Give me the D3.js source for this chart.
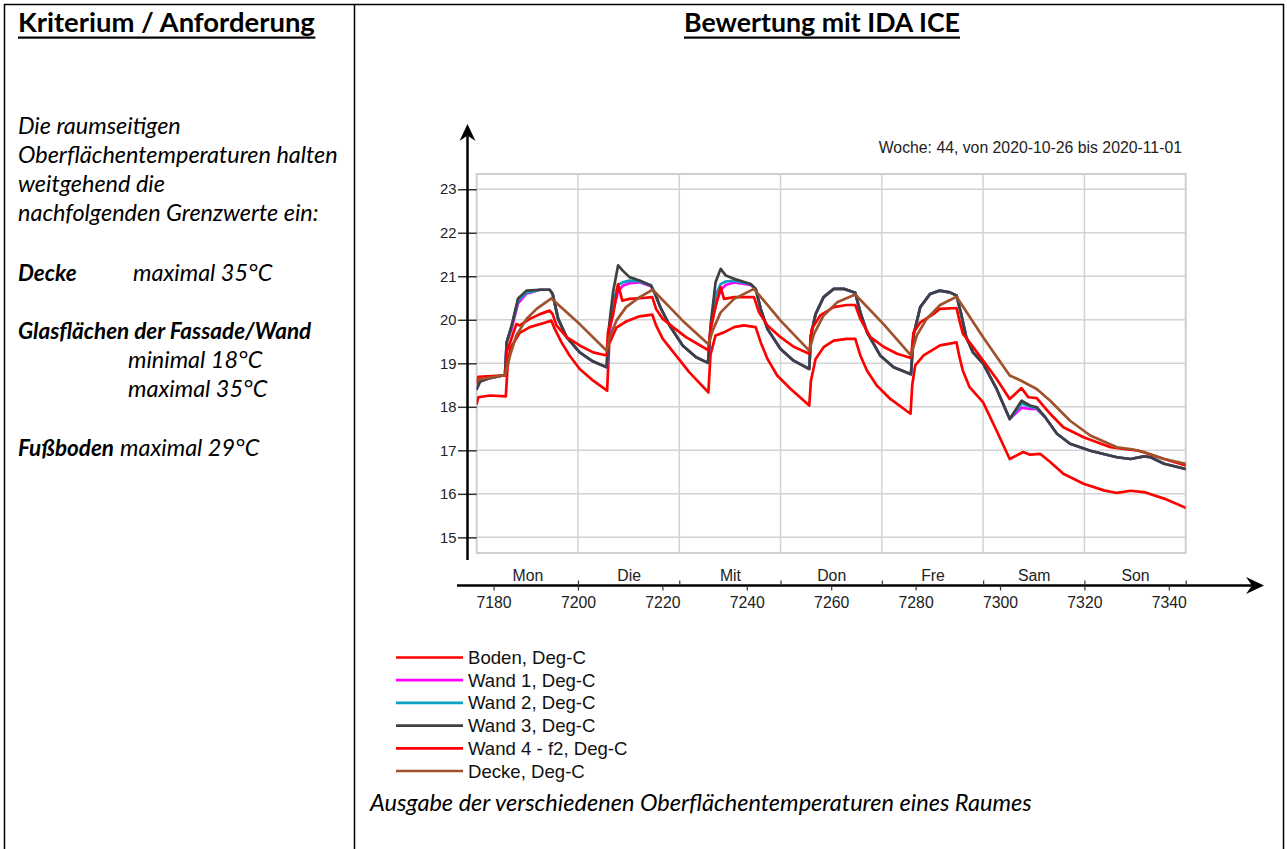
<!DOCTYPE html>
<html><head><meta charset="utf-8">
<script src="https://cdn.jsdelivr.net/npm/d3@7"></script>
<style>body{margin:0;background:#fff} svg{display:block}</style>
</head><body>
<svg id="c" width="1287" height="849"></svg>
<script>
// ---------------- data ----------------
const yTicks = [15, 16, 17, 18, 19, 20, 21, 22, 23];
const xTicks = [7180, 7200, 7220, 7240, 7260, 7280, 7300, 7320, 7340];
const dayNames = ["Mon", "Die", "Mit", "Don", "Fre", "Sam", "Son"];
const dayBounds = [7200, 7224, 7248, 7272, 7296, 7320, 7344];
const dayMids = [7188, 7212, 7236, 7260, 7284, 7308, 7332];
const chartTitle = "Woche: 44, von 2020-10-26 bis 2020-11-01";
const seriesNames = ["Boden, Deg-C", "Wand 1, Deg-C", "Wand 2, Deg-C", "Wand 3, Deg-C", "Wand 4 - f2, Deg-C", "Decke, Deg-C"];

const hBoden = [7176,7176.4,7179.1,7182.9,7183.3,7184,7186.2,7188.6,7191.7,7193.7,7194.5,7196.1,7198,7200.4,7203.6,7206.9,
  7207.4,7209.1,7211.4,7214.6,7217.6,7218.5,7220.1,7223.2,7226.4,7230.9,
  7231.4,7232.6,7234.6,7237,7239.3,7242.1,7243.3,7244.9,7247.2,7250.4,7254.8,
  7255.2,7256.3,7258.2,7260.6,7263.7,7265.7,7266.9,7268.5,7270.8,7274,7278.8,
  7279.2,7279.9,7281.9,7285.8,7289.7,7290.4,7291.2,7292.8,7296,7299.2,7302.3,7305.5,7307.1,7309.5,7311.9,7315,7319.8,7324.6,7327.7,7330.9,7334.1,7338.9,7344];
const boden = [18.07,18.22,18.26,18.24,18.9,19.35,19.7,19.83,19.92,19.98,19.79,19.48,19.18,18.87,18.6,18.37,
  19.45,19.82,19.96,20.08,20.12,19.87,19.56,19.18,18.79,18.33,
  19.2,19.64,19.71,19.83,19.87,19.83,19.48,19.1,18.72,18.41,18.03,
  18.6,19.1,19.37,19.52,19.56,19.56,19.18,18.83,18.49,18.18,17.84,
  18.5,18.95,19.18,19.41,19.48,19.14,18.83,18.45,18.1,17.45,16.8,16.96,16.9,16.92,16.73,16.46,16.23,16.08,16.02,16.07,16.04,15.89,15.68];

const hWand = [7176,7176.8,7179.1,7182.7,7183.1,7184.3,7185.8,7187.8,7191,7193.3,7194,7195.3,7197.3,7200.4,7203.6,7206.8,
  7207.3,7208.3,7209.5,7210.6,7212.2,7214.6,7217.3,7218.1,7219.7,7221.7,7224.8,7228,7230.8,
  7231.5,7232.6,7233.8,7235,7237,7240.9,7242.1,7243.3,7244.9,7248,7251.1,7254.8,
  7255.2,7256.3,7258.2,7260.6,7263,7265.7,7266.9,7268.5,7271.6,7274.8,7278.9,
  7279.5,7281.1,7283.4,7285.7,7288.1,7289.7,7290.8,7292,7293.6,7296,7299.2,7302.3,7305.1,7307.1,7308.7,7310.7,7313.5,7316.6,7321.4,7327.7,7330.9,7334.1,7335.7,7338.9,7344];
const wand3 = [18.41,18.58,18.66,18.73,19.48,19.87,20.49,20.67,20.69,20.69,20.59,20.02,19.6,19.25,19.04,18.91,
  19.79,20.63,21.25,21.13,20.98,20.9,20.79,20.63,20.25,19.87,19.41,19.14,19.01,
  19.94,20.86,21.17,21.02,20.94,20.82,20.71,20.25,19.79,19.33,19.06,18.87,
  19.64,20.13,20.52,20.71,20.71,20.62,20.17,19.71,19.18,18.91,18.75,
  19.64,20.29,20.59,20.67,20.63,20.56,20.13,19.6,19.25,18.99,18.41,17.72,18.14,18.03,17.99,17.76,17.38,17.15,16.99,16.84,16.8,16.86,16.84,16.69,16.57];
const wand2 = [18.41,18.58,18.66,18.73,19.48,19.87,20.45,20.62,20.69,20.69,20.59,20.02,19.6,19.25,19.04,18.91,
  19.75,20.4,20.8,20.86,20.9,20.88,20.79,20.63,20.25,19.87,19.41,19.14,19.01,
  19.9,20.55,20.82,20.88,20.9,20.82,20.71,20.25,19.79,19.33,19.06,18.87,
  19.64,20.13,20.52,20.71,20.71,20.62,20.17,19.71,19.18,18.91,18.75,
  19.64,20.29,20.59,20.67,20.63,20.56,20.13,19.6,19.25,18.99,18.41,17.72,18.08,18.0,17.97,17.76,17.38,17.15,16.99,16.84,16.8,16.86,16.84,16.69,16.57];
const wand1 = [18.41,18.58,18.66,18.73,19.48,19.8,20.38,20.6,20.69,20.69,20.59,20.02,19.6,19.25,19.04,18.91,
  19.6,20.2,20.65,20.78,20.84,20.86,20.77,20.63,20.25,19.87,19.41,19.14,19.01,
  19.8,20.35,20.68,20.8,20.86,20.8,20.71,20.25,19.79,19.33,19.06,18.87,
  19.64,20.13,20.52,20.71,20.71,20.62,20.17,19.71,19.18,18.91,18.75,
  19.64,20.29,20.59,20.67,20.63,20.56,20.13,19.6,19.25,18.99,18.41,17.72,17.98,17.95,17.95,17.76,17.38,17.15,16.99,16.84,16.8,16.86,16.84,16.69,16.57];

const hWand4 = [7176,7176.4,7182.8,7183.2,7184,7185.4,7186.2,7188.6,7191,7193.3,7194,7194.9,7197.3,7200.4,7203.6,7206.8,
  7207.1,7208.3,7209.5,7210.5,7212.2,7215.4,7217.6,7218.5,7220.1,7222.5,7225.6,7230.9,
  7231.4,7232.6,7233.8,7234.6,7237,7241.7,7242.9,7244.9,7248,7251.1,7254.8,
  7255.4,7257.4,7260.6,7263.7,7265.7,7266.9,7269.3,7272.4,7275.6,7278.9,
  7279.5,7281.1,7284.2,7285.7,7289.7,7290.4,7291.2,7292.8,7296,7299.2,7302.3,7305.1,7306.7,7308.7,7311.9,7315,7319.8,7326.2,7329.3,7332.5,7338.9,7344];
const wand4 = [18.55,18.69,18.72,19.3,19.5,19.9,19.87,20.02,20.13,20.21,20.13,19.87,19.6,19.41,19.25,19.18,
  19.71,20.1,20.82,20.44,20.48,20.5,20.52,20.25,20.02,19.83,19.6,19.3,
  19.79,20.3,20.75,20.48,20.52,20.52,20.17,19.87,19.6,19.38,19.22,
  19.79,20.1,20.29,20.34,20.34,20.02,19.6,19.38,19.22,19.12,
  19.71,19.94,20.13,20.25,20.27,19.98,19.68,19.48,19.06,18.64,18.18,18.43,18.22,18.2,17.84,17.53,17.3,17.07,17.03,17.0,16.8,16.65];

const hDecke = [7176,7182.7,7183.9,7185.4,7187.8,7190.2,7193.7,7200.4,7206.8,
  7207.5,7209.1,7211.4,7214.6,7217.7,7224.8,7230.9,
  7231.9,7233.8,7237,7241.7,7248,7254.8,
  7255.9,7258.2,7261.4,7265.7,7272.4,7278.9,
  7280.3,7282.6,7285.8,7289.7,7296,7302.3,7305,7308.7,7311.9,7316.6,7321.4,7327.7,7330.9,7334.1,7338.9,7344];
const decke = [18.62,18.73,19.18,19.64,20.02,20.25,20.49,19.9,19.29,
  19.6,19.98,20.29,20.52,20.69,19.98,19.44,
  19.75,20.17,20.48,20.71,19.98,19.29,
  19.67,20.1,20.4,20.58,19.9,19.18,
  19.64,20.02,20.34,20.53,19.6,18.72,18.6,18.41,18.14,17.68,17.34,17.07,17.03,16.96,16.8,16.69];

const seriesColors = ["#ff0000", "#ff00ff", "#0aa0c4", "#404040", "#ff0000", "#a0522d"];

// --------------- drawing ---------------
const svg = d3.select("#c");
svg.append("rect").attr("width", 1287).attr("height", 849).attr("fill", "#fff");

const L = 476.7, R = 1185.7, T = 174, B = 553;
const x = d3.scaleLinear().domain([7176, 7344]).range([L, R]);
const y = d3.scaleLinear().domain([14.64, 23.35]).range([B, T]);

// table frame
const frame = svg.append("g").attr("stroke", "#000").attr("stroke-width", 1.5).attr("fill", "none");
frame.append("path").attr("d", "M4.5,860 V4.5 H1283.5 V860");
frame.append("line").attr("x1", 354.5).attr("x2", 354.5).attr("y1", 4.5).attr("y2", 860);

// headers
function fitSize(sel, target) {
  const w = sel.node().getComputedTextLength();
  const fs = parseFloat(sel.attr("font-size"));
  return fs * target / w;
}
const hdrFont = "Lato, 'Open Sans', sans-serif";
const h1 = svg.append("text").attr("x", 18).attr("y", 32).attr("font-family", hdrFont)
  .attr("font-weight", "bold").attr("font-size", 24).attr("fill", "#000").text("Kriterium / Anforderung");
h1.attr("font-size", fitSize(h1, 297));
const h2 = svg.append("text").attr("x", 822).attr("y", 32).attr("text-anchor", "middle").attr("font-family", hdrFont)
  .attr("font-weight", "bold").attr("font-size", 24).attr("fill", "#000").text("Bewertung mit IDA ICE");
h2.attr("font-size", fitSize(h2, 276));
[h1, h2].forEach(t => {
  const bb = t.node().getBBox();
  svg.append("rect").attr("x", bb.x).attr("y", 36.5).attr("width", bb.width).attr("height", 2.2).attr("fill", "#000");
});

// left column text
const leftLines = [
  {t: "Die raumseitigen", x: 18, y: 134},
  {t: "Oberflächentemperaturen halten", x: 18, y: 163, ref: 320},
  {t: "weitgehend die", x: 18, y: 192},
  {t: "nachfolgenden Grenzwerte ein:", x: 18, y: 221},
  {t: "Decke", x: 18, y: 281, b: true},
  {t: "maximal 35°C", x: 133, y: 281},
  {t: "Glasflächen der Fassade/Wand", x: 18, y: 339, b: true, ref: 308},
  {t: "minimal 18°C", x: 128, y: 368},
  {t: "maximal 35°C", x: 128, y: 397},
  {t: "Fußboden", x: 18, y: 456, b: true, ref: 96},
  {t: "maximal 29°C", x: 120, y: 456}
];
const leftG = svg.append("g").attr("font-family", hdrFont).attr("font-style", "italic").attr("fill", "#000");
const lt = leftG.selectAll("text").data(leftLines).join("text")
  .attr("x", d => d.x).attr("y", d => d.y).attr("font-size", 20)
  .attr("font-weight", d => d.b ? "bold" : "normal").text(d => d.t);
let fsN = 20, fsB = 40;
lt.each(function (d) {
  if (!d.ref) return;
  const f = fitSize(d3.select(this), d.ref);
  if (d.b) fsB = Math.min(fsB, f); else fsN = f;
});
lt.attr("font-size", d => d.b ? fsB : fsN);

// caption
const cap = svg.append("text").attr("x", 370).attr("y", 811).attr("font-family", hdrFont).attr("font-style", "italic")
  .attr("font-size", 20).attr("fill", "#000").text("Ausgabe der verschiedenen Oberflächentemperaturen eines Raumes");
cap.attr("font-size", fitSize(cap, 662));

// chart
const chartFont = "'Liberation Sans', Arial, sans-serif";
svg.append("text").attr("x", 1182).attr("y", 153).attr("text-anchor", "end").attr("font-family", chartFont)
  .attr("font-size", 15.8).attr("fill", "#222").text(chartTitle);

// grid
const grid = svg.append("g").attr("stroke", "#d3d3d3").attr("stroke-width", 1.5).attr("fill", "none");
grid.selectAll(".h").data(yTicks).join("line").attr("x1", L).attr("x2", R).attr("y1", d => y(d)).attr("y2", d => y(d));
grid.selectAll(".v").data(dayBounds.slice(0, -1)).join("line").attr("y1", T).attr("y2", B).attr("x1", d => x(d)).attr("x2", d => x(d));
grid.append("rect").attr("x", L).attr("y", T).attr("width", R - L).attr("height", B - T).attr("stroke", "#cfcfcf").attr("stroke-width", 2);

// y axis ticks + labels
const yAx = svg.append("g").attr("transform", `translate(${L},0)`)
  .call(d3.axisLeft(y).tickValues(yTicks).tickSize(18.7).tickPadding(1.5).tickFormat(d3.format("d")));
yAx.select(".domain").remove();
yAx.selectAll(".tick line").attr("stroke", "#333").attr("stroke-width", 1.5);
yAx.selectAll("text").attr("font-family", chartFont).attr("font-size", 14.8).attr("fill", "#222");

// y axis line with arrow
svg.append("line").attr("x1", 467.5).attr("x2", 467.5).attr("y1", 128).attr("y2", 560).attr("stroke", "#000").attr("stroke-width", 2.5);
svg.append("path").attr("d", "M467.5,124 L459.5,141 L467.5,135.5 L475.5,141 Z").attr("fill", "#000");

// x axis line with arrow
svg.append("line").attr("x1", 457).attr("x2", 1258).attr("y1", 585.5).attr("y2", 585.5).attr("stroke", "#000").attr("stroke-width", 2.5);
svg.append("path").attr("d", "M1264,585.5 L1246,577 L1252,585.5 L1246,594 Z").attr("fill", "#000");

const xAx = svg.append("g").attr("transform", "translate(0,585.5)")
  .call(d3.axisBottom(x).tickValues(xTicks).tickSize(5).tickPadding(6).tickFormat(d3.format("d")));
xAx.select(".domain").remove();
xAx.selectAll(".tick line").attr("stroke", "#333").attr("stroke-width", 1.2);
xAx.selectAll("text").attr("font-family", chartFont).attr("font-size", 15.8).attr("fill", "#222");

const dAx = svg.append("g").attr("transform", "translate(0,585.5)")
  .call(d3.axisTop(x).tickValues(dayBounds).tickSize(5).tickFormat(""));
dAx.select(".domain").remove();
dAx.selectAll(".tick line").attr("stroke", "#333").attr("stroke-width", 1.2);

const nAx = svg.append("g").attr("transform", "translate(0,585.5)")
  .call(d3.axisTop(x).tickValues(dayMids).tickSize(0).tickPadding(5).tickFormat((d, i) => dayNames[i]));
nAx.select(".domain").remove();
nAx.selectAll("text").attr("font-family", chartFont).attr("font-size", 15.8).attr("fill", "#222");

// series
svg.append("clipPath").attr("id", "pc").append("rect").attr("x", L).attr("y", T).attr("width", R - L).attr("height", B - T);
const series = [
  {h: hBoden, v: boden}, {h: hWand, v: wand1}, {h: hWand, v: wand2},
  {h: hWand, v: wand3}, {h: hWand4, v: wand4}, {h: hDecke, v: decke}
];
const line = d3.line().x(d => x(d[0])).y(d => y(d[1]));
const lg = svg.append("g").attr("clip-path", "url(#pc)");
series.forEach((s, i) => {
  lg.append("path").attr("d", line(s.h.map((h, k) => [h, s.v[k]])))
    .attr("fill", "none").attr("stroke", seriesColors[i]).attr("stroke-width", 2.7)
    .attr("stroke-linejoin", "round").attr("stroke-linecap", "round");
});

// legend
const leg = svg.append("g");
seriesNames.forEach((n, i) => {
  const cy = 657.5 + i * 22.7;
  leg.append("line").attr("x1", 396).attr("x2", 463).attr("y1", cy).attr("y2", cy)
    .attr("stroke", seriesColors[i]).attr("stroke-width", 2.7);
  leg.append("text").attr("x", 468).attr("y", cy + 6.5).attr("font-family", chartFont)
    .attr("font-size", 18.6).attr("fill", "#111").text(n);
});
</script>
</body></html>
